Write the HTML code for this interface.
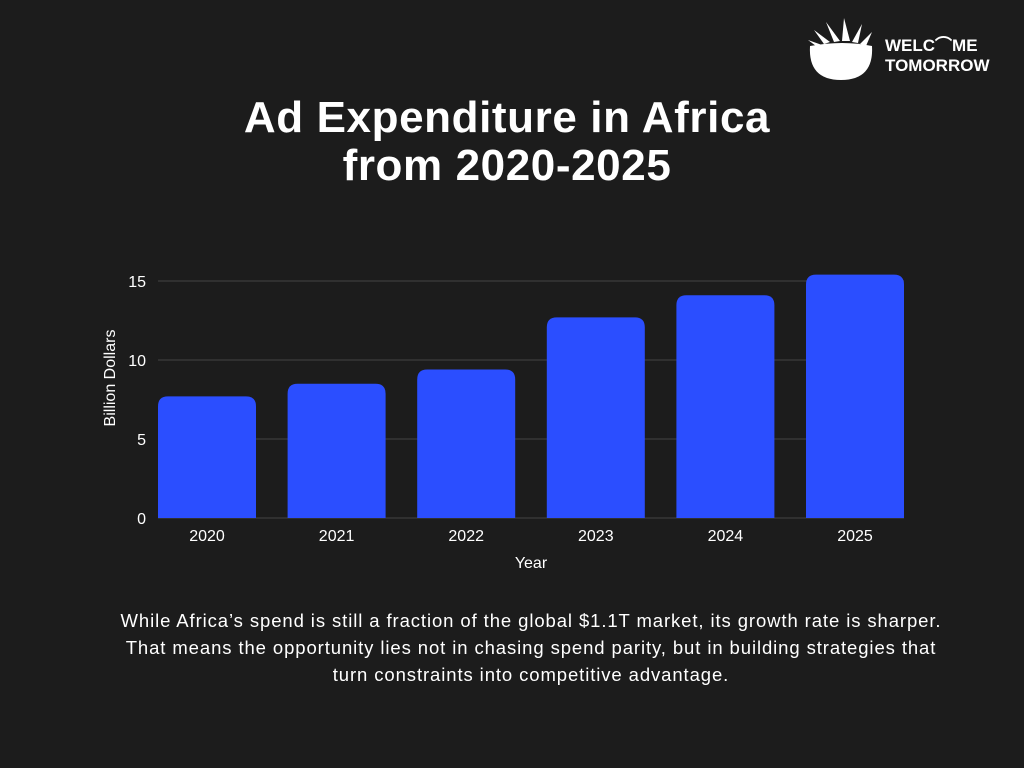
<!DOCTYPE html>
<html><head><meta charset="utf-8"><style>
body{margin:0;background:#1c1c1c;width:1024px;height:768px;overflow:hidden;font-family:"Liberation Sans",sans-serif;color:#fff;position:relative}
#title{position:absolute;top:94px;left:0;width:1014px;text-align:center;font-size:44px;font-weight:bold;line-height:48px;letter-spacing:0.6px}
#caption{position:absolute;top:607px;left:0;width:1062px;text-align:center;font-size:18.5px;line-height:27px;letter-spacing:0.9px}
#logo{position:absolute;left:808px;top:18px}
</style></head><body>
<div id="logo">
<svg width="200" height="70">
<g fill="#fff">
<path d="M2 28 Q35 22 64 28 Q66 62 33 62 Q0 62 2 28Z"/>
<path d="M16 26 L6 12 L22 24Z"/><path d="M26 24 L18 4 L32 23Z"/><path d="M34 23 L36 0 L42 23Z"/><path d="M44 24 L54 6 L50 25Z"/><path d="M52 26 L64 14 L58 28Z"/><path d="M8 28 L0 22 L14 27Z"/>
</g>
<text x="77" y="33" font-size="17" font-weight="bold" fill="#fff" font-family="Liberation Sans">WELC⌒ME</text>
<text x="77" y="53" font-size="17" font-weight="bold" fill="#fff" font-family="Liberation Sans">TOMORROW</text>
</svg></div>
<div id="title">Ad Expenditure in Africa<br>from 2020-2025</div>
<svg id="chart" width="1024" height="768" style="position:absolute;left:0;top:0"></svg>
<div id="caption">While Africa’s spend is still a fraction of the global $1.1T market, its growth rate is sharper.<br>That means the opportunity lies not in chasing spend parity, but in building strategies that<br>turn constraints into competitive advantage.</div>
<script>
const categories=["2020","2021","2022","2023","2024","2025"];
const values=[7.7,8.5,9.4,12.7,14.1,15.4];
const yTicks=[0,5,10,15];
const NS="http://www.w3.org/2000/svg";
const svg=document.getElementById('chart');
const y0=518,pxPer=15.8,x0=207,step=129.6,bw=98,left=158,right=904;
const y=v=>y0-v*pxPer;
const x=i=>x0+i*step;
function mk(t,a){const e=document.createElementNS(NS,t);for(const k in a)e.setAttribute(k,a[k]);svg.appendChild(e);return e;}
yTicks.forEach(t=>{
 const l=mk('line',{x1:left,x2:right,y1:y(t),y2:y(t),stroke:'#444','stroke-width':1});
 
 
 const tx=mk('text',{x:146,y:y(t)+6,'text-anchor':'end','font-size':16,fill:'#fff','font-family':'Liberation Sans'});
 tx.textContent=t;
 
 
});
values.forEach((v,i)=>{
 const top=y(v),r=10,xl=x(i)-bw/2;
 const p=mk('path',{d:`M${xl} ${y0} V${top+r} Q${xl} ${top} ${xl+r} ${top} H${xl+bw-r} Q${xl+bw} ${top} ${xl+bw} ${top+r} V${y0}Z`,fill:'#2b4eff'});
 
 
 const t=mk('text',{x:x(i),y:541,'text-anchor':'middle','font-size':16,fill:'#fff','font-family':'Liberation Sans'});
 t.textContent=categories[i];
 
 
});
const xt=mk('text',{x:531,y:568,'text-anchor':'middle','font-size':16,fill:'#fff','font-family':'Liberation Sans'});
xt.textContent='Year';


const yt=mk('text',{x:0,y:0,'text-anchor':'middle','font-size':16,fill:'#fff','font-family':'Liberation Sans',transform:'translate(115,378) rotate(-90)'});
yt.textContent='Billion Dollars';


</script>
</body></html>
